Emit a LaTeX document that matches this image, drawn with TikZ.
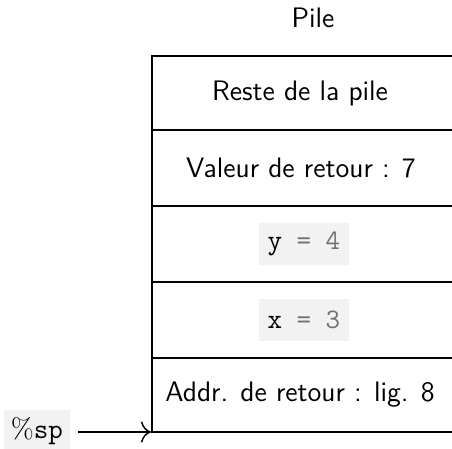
\documentclass[tikz,border=0pt]{standalone}
\usepackage{tikz}
\usetikzlibrary{arrows.meta}
\definecolor{codebg}{HTML}{F2F2F2}
\definecolor{codegray}{HTML}{707070}
\renewcommand{\familydefault}{\sfdefault}
\begin{document}
\begin{tikzpicture}[x=0.408pt,y=-0.408pt,
  cell/.style={font=\sffamily\fontsize{11.5}{14}\selectfont},
  code/.style={fill=codebg,font=\ttfamily\fontsize{11.5}{14}\selectfont,inner sep=3.5pt,minimum height=17pt},
  rowline/.style={line width=0.8pt}]
\useasboundingbox (0,0) rectangle (452,449);
\node[cell] (title) at (313,18) {Pile};
\draw[rowline] (470,56) -- (152,56) -- (152,432) -- (470,432);
\foreach \yy in {130,206,282,358} \draw[rowline] (152,\yy) -- (470,\yy);
\node[cell] (r1) at (300,93) {Reste de la pile};
\node[cell] (r2) at (301,168) {Valeur de retour : 7};
\node[code] (r3) at (304,244) {y \textcolor{codegray}{= 4}};
\node[code] (r4) at (304,320) {x \textcolor{codegray}{= 3}};
\node[cell] (r5) at (300,395) {Addr. de retour : lig. 8};
\coordinate (corner) at (151,432);
\node[fill=codebg,font=\ttfamily\fontsize{11.5}{14}\selectfont,inner sep=3pt,minimum height=15pt] (sp) at (37,431) {\textrm{\%}sp};
\draw[-{To[scale=1.4]},line width=0.6pt] ([xshift=3pt]sp.east |- corner) -- (corner);
\end{tikzpicture}
\end{document}
